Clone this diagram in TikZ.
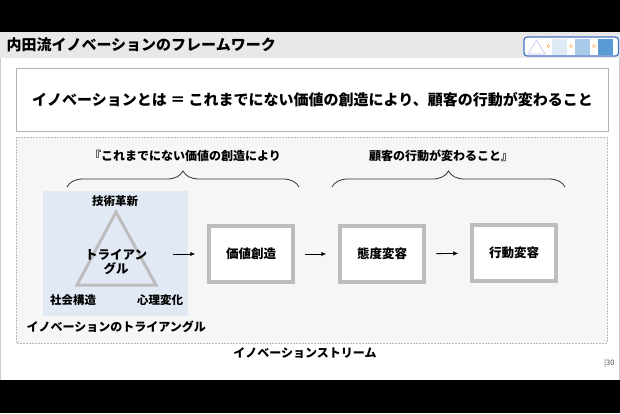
\documentclass[tikz,border=0pt]{standalone}
\usepackage{fontspec}
\setmainfont{Noto Sans CJK JP}
\usetikzlibrary{positioning}
\usetikzlibrary{arrows.meta}
\usetikzlibrary{decorations.pathreplacing}

\definecolor{azulclaro}{HTML}{E1EAF4}
\definecolor{grisborde}{HTML}{BDBDBD}
\definecolor{azulicono}{HTML}{4472C4}
\definecolor{cuadro1}{HTML}{DEEBF7}
\definecolor{cuadro2}{HTML}{A9CBEA}
\definecolor{cuadro3}{HTML}{5B9BD5}

\tikzset{
    caja/.style={draw=grisborde, line width=3.5pt, fill=white,
        minimum width=84pt, minimum height=56pt,
        font=\fontsize{12.5}{14}\selectfont\bfseries},
    flecha/.style={-{Latex[length=5pt,width=4.5pt]}, line width=0.9pt,
        shorten >=12pt, shorten <=10.5pt},
    llave/.style={decorate, decoration={brace, amplitude=16pt},
        line width=0.8pt, draw=black!80},
    etiqueta/.style={font=\fontsize{11.5}{13}\selectfont\bfseries}
}

\begin{document}
\begin{tikzpicture}[x=1pt, y=-1pt]
    \useasboundingbox (0,0) rectangle (620,413);

    % Fondo de la diapositiva
    \fill[white] (0,32) rectangle (620,380);
    \draw[gray!40, line width=0.8pt] (0.4,32) -- (0.4,380);
    \draw[gray!40, line width=0.8pt] (619.4,32) -- (619.4,380);
    \fill[black] (0,0) rectangle (620,32);
    \fill[black] (0,380) rectangle (620,413);

    % Barra de titulo
    \fill[gray!18] (0,32) rectangle (620,58);
    \node[anchor=west, font=\fontsize{15}{17}\selectfont\bfseries] (titulo) at (3,45)
        {内田流イノベーションのフレームワーク};

    % Icono
    \draw[azulicono, line width=1.2pt, fill=white, rounded corners=3pt] (524,37) rectangle (618.5,56);
    \draw[gray!45!blue!30, line width=0.6pt] (528,54) -- (536.5,40) -- (545,54) -- cycle;
    \fill[cuadro1] (552,39) rectangle (567,55);
    \fill[cuadro2] (575,39) rectangle (590,55);
    \fill[cuadro3] (598,39) rectangle (613,55);
    \foreach \x in {548.5,571,594}
        \draw[orange!70, line width=0.5pt] (\x,46) circle (1.6);

    % Definicion
    \node[draw=gray!60, line width=1.2pt, fill=white,
          minimum width=592pt, minimum height=63pt,
          font=\fontsize{15}{17}\selectfont\bfseries] (definicion) at (312.5,100)
        {イノベーションとは ＝ これまでにない価値の創造により、顧客の行動が変わること};

    % Marco punteado
    \draw[gray!55, line width=0.8pt, dash pattern=on 1.6pt off 1.4pt, fill=gray!7]
        (16,137) rectangle (607,343);

    % Llaves
    \coordinate (llaveA1) at (67,187);
    \coordinate (llaveA2) at (299,187);
    \coordinate (llaveB1) at (332,187);
    \coordinate (llaveB2) at (565,187);
    \draw[llave] (llaveA1) -- (llaveA2);
    \draw[llave] (llaveB1) -- (llaveB2);
    \node[etiqueta, font=\fontsize{12}{14}\selectfont\bfseries] (fraseA) at (185,156) {『これまでにない価値の創造により};
    \node[etiqueta, font=\fontsize{12}{14}\selectfont\bfseries] (fraseB) at (441,156) {顧客の行動が変わること』};

    % Triangulo
    \node[fill=azulclaro, minimum width=145pt, minimum height=125pt] (zona) at (115.5,253.5) {};
    \coordinate (vertice) at (116,212);
    \coordinate (baseizq) at (77,285);
    \coordinate (baseder) at (156,285);
    \draw[grisborde, line width=3pt] (vertice) -- (baseizq) -- (baseder) -- cycle;
    \node[etiqueta] (tecnica) at (115,201) {技術革新};
    \node[etiqueta] (social) at (73,300) {社会構造};
    \node[etiqueta] (psico) at (160,300) {心理変化};
    \node[font=\fontsize{12.5}{14}\selectfont\bfseries, align=center] (centro) at (116,262)
        {トライアン\\グル};
    \node[font=\fontsize{12}{14}\selectfont\bfseries, anchor=west] (nombre) at (23,327)
        {イノベーションのトライアングル};

    % Etapas
    \node[caja] (valor) at (251,254) {価値創造};
    \node[caja] (actitud) at (382,254) {態度変容};
    \node[caja] (conducta) at (514,253) {行動変容};

    \coordinate (inicio) at (173,254);
    \draw[flecha, shorten <=0pt] (inicio) -- (valor);
    \draw[flecha] (valor) -- (actitud);
    \draw[flecha] (actitud) -- (conducta);

    % Pie
    \node[font=\fontsize{12}{14}\selectfont\bfseries] (corriente) at (305,353)
        {イノベーションストリーム};
    \node[font=\fontsize{7.5}{9}\selectfont, text=black!70, anchor=east] (pagina) at (618,363) {|30};

\end{tikzpicture}
\end{document}
